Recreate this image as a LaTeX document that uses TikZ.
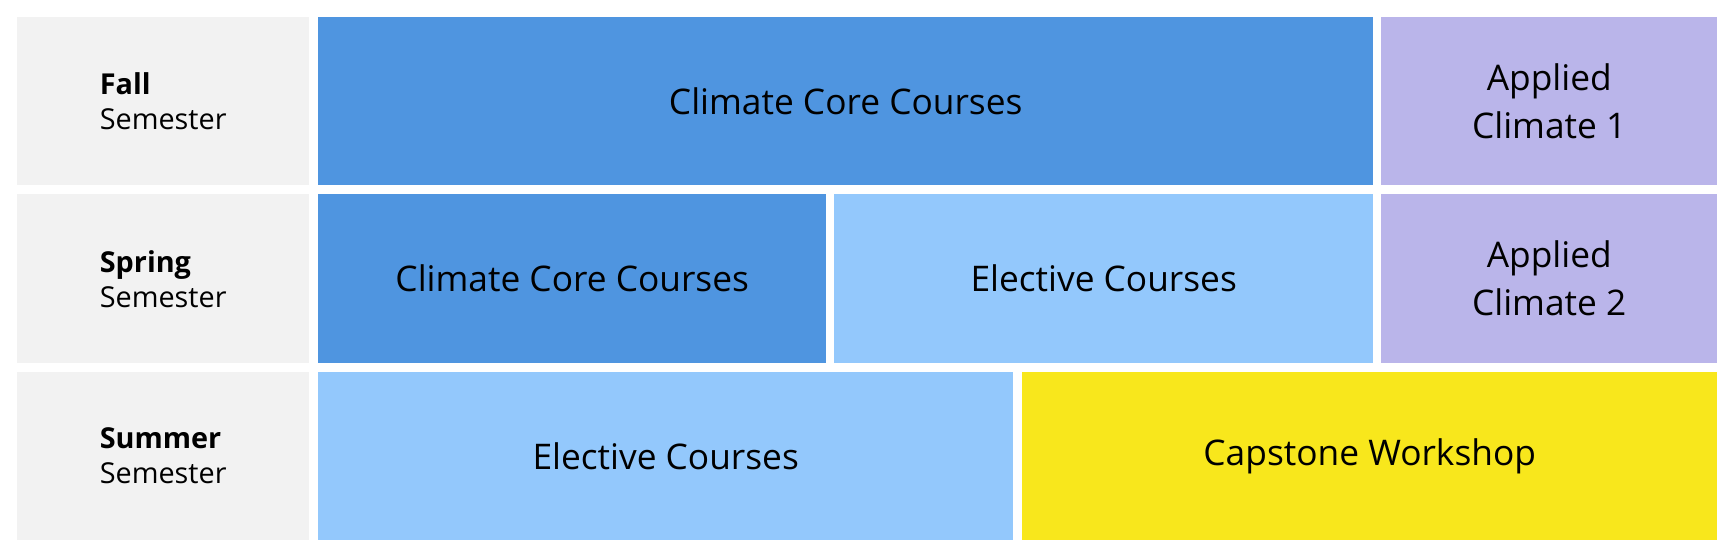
\documentclass[tikz,border=0pt]{standalone}
\usepackage{fontspec}
\setmainfont{Open Sans}
\definecolor{labelgray}{HTML}{F2F2F2}
\definecolor{coreblue}{HTML}{4F95E0}
\definecolor{electblue}{HTML}{93C8FC}
\definecolor{applpurple}{HTML}{BAB5EA}
\definecolor{capyellow}{HTML}{F8E71C}
\begin{document}
\begin{tikzpicture}[x=1pt,y=-1pt,
    cell/.style={anchor=north west,inner sep=0pt,align=center,
      font=\fontsize{35.3}{48}\selectfont,text=black},
    sem/.style={cell,fill=labelgray,align=left,
      font=\fontsize{28.8}{35}\selectfont}]
  \useasboundingbox (0,0) rectangle (1732,557);
  % semester labels
  \node[sem,minimum width=292pt,minimum height=168pt] (fall) at (17,17)
    {\textbf{Fall}\\Semester};
  \node[sem,minimum width=292pt,minimum height=169pt] (spring) at (17,194)
    {\textbf{Spring}\\Semester};
  \node[sem,minimum width=292pt,minimum height=168pt] (summer) at (17,372)
    {\textbf{Summer}\\Semester};
  % fall
  \node[cell,fill=coreblue,minimum width=1055pt,minimum height=168pt] (core1) at (318,17)
    {Climate Core Courses};
  \node[cell,fill=applpurple,minimum width=336pt,minimum height=168pt] (appl1) at (1381,17)
    {Applied\\Climate 1};
  % spring
  \node[cell,fill=coreblue,minimum width=508pt,minimum height=169pt] (core2) at (318,194)
    {Climate Core Courses};
  \node[cell,fill=electblue,minimum width=539pt,minimum height=169pt] (elect2) at (834,194)
    {Elective Courses};
  \node[cell,fill=applpurple,minimum width=336pt,minimum height=169pt] (appl2) at (1381,194)
    {Applied\\Climate 2};
  % summer
  \node[cell,fill=electblue,minimum width=695pt,minimum height=168pt] (elect3) at (318,372)
    {Elective Courses};
  \node[cell,fill=capyellow,minimum width=695pt,minimum height=168pt] (cap3) at (1022,372)
    {Capstone Workshop};
\end{tikzpicture}
\end{document}
